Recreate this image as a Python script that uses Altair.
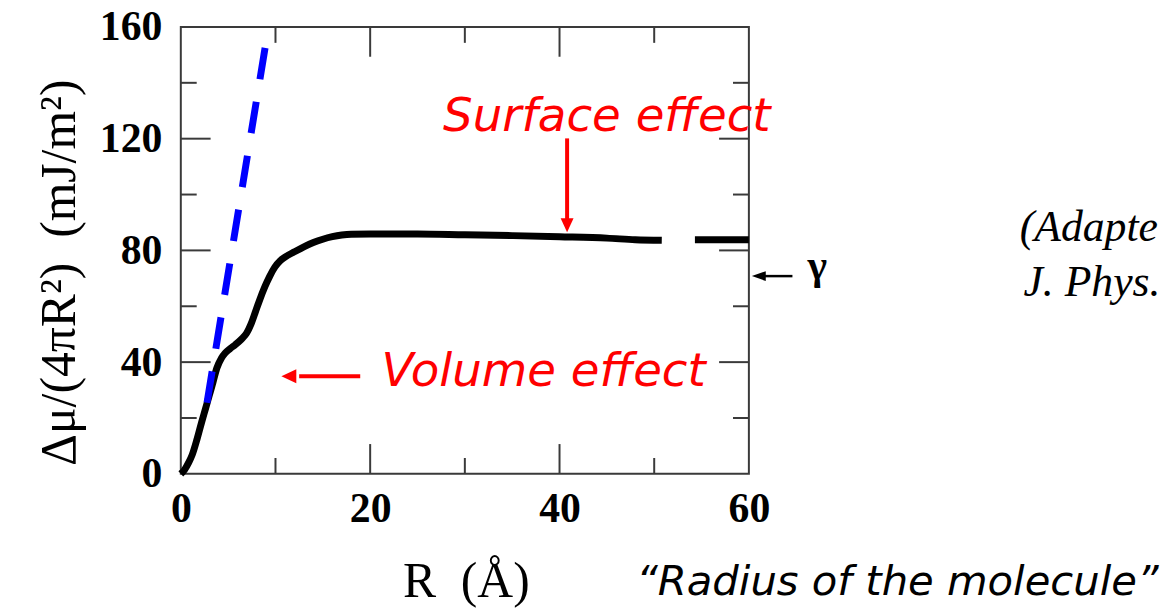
import altair as alt
import pandas as pd

# ---------------- data ----------------
# black curve  Δμ/(4πR²) vs R  (segment 1 before the gap, segment 2 after)
curve_R = [0.0, 0.4, 0.84, 1.2, 1.71, 2.2, 2.6, 3.0, 3.29, 3.81, 4.3, 4.69, 5.2,
           5.74, 6.4, 6.96, 7.4, 7.83, 8.3, 8.88, 9.4, 9.93, 10.5, 11.0, 12.0,
           13.0, 14.0, 15.0, 16.0, 17.0, 18.0, 20.0, 25.0, 30.0, 35.0, 40.0,
           45.0, 48.0, 50.8,
           54.3, 57.0, 60.0]
curve_v = [0.0, 1.5, 4.1, 6.8, 12.4, 18.5, 23.2, 28.0, 31.4, 37.9, 41.5, 43.3, 44.8,
           46.2, 48.2, 50.4, 53.5, 57.5, 62.0, 67.0, 70.8, 74.0, 76.3, 77.6, 79.5,
           81.3, 82.8, 84.0, 84.9, 85.5, 85.8, 85.9, 85.9, 85.6, 85.3, 84.9,
           84.4, 83.8, 83.6,
           83.8, 83.8, 83.8]
curve_seg = [1] * 39 + [2] * 3

# blue dashed (volume) line, listed from its top end
blue_R = [8.9, 2.6]
blue_v = [152.5, 22.0]
blue_ord = [0, 1]

# axis tick values
x_labels = [0, 20, 40, 60]
y_labels = [0, 40, 80, 120, 160]
x_major = [20, 40]
x_minor = [10, 30, 50]
y_major = [40, 80, 120]
y_minor = [20, 60, 100, 140]

# annotations
red_text = ["Surface effect", "Volume effect"]
red_text_R = [27.7, 21.2]
red_text_v = [122.9, 31.6]

ref_text = ["(Adapte", "J. Phys."]
ref_text_R = [88.6, 89.0]
ref_text_v = [83.5, 63.5]

gamma_text = ["γ"]
gamma_R = [66.2]
gamma_v = [74.3]

radius_text = ["\u201cRadius of the molecule\u201d"]
radius_R = [48.1]
radius_v = [-43.2]

# arrows: shafts and heads
surf_arrow_R = [40.8, 40.8]
surf_arrow_v = [120.1, 90.5]
surf_head_R = [40.8]
surf_head_v = [89.0]

vol_arrow_R = [18.95, 12.5]
vol_arrow_v = [34.95, 34.95]
vol_head_R = [11.41]
vol_head_v = [34.95]

gam_arrow_R = [64.6, 61.5]
gam_arrow_v = [70.8, 70.8]
gam_head_R = [61.05]
gam_head_v = [70.8]

# ---------------- chart ----------------
W, H = 572, 450
XS = alt.Scale(domain=[0, 60], nice=False, zero=False)
YS = alt.Scale(domain=[0, 160], nice=False, zero=False)
FRAME = "#3a3a3a"

X_AXIS = alt.Axis(values=x_labels, domain=False, ticks=False, tickSize=0, grid=False,
                  labelFont="Liberation Serif", labelFontWeight="bold", labelFontSize=42,
                  labelColor="black", labelPadding=15, labelFlush=False,
                  labelOverlap=False,
                  title="R\u00a0\u00a0(Å)", titleFont="Liberation Serif", titleFontSize=50,
                  titleFontWeight="normal", titleColor="black",
                  titleAlign="center", titleBaseline="alphabetic",
                  titleX=287, titleY=123)
Y_AXIS = alt.Axis(values=y_labels, domain=False, ticks=False, tickSize=0, grid=False,
                  labelFont="Liberation Serif", labelFontWeight="bold", labelFontSize=42,
                  labelColor="black", labelPadding=19, labelFlush=False,
                  labelOverlap=False,
                  title="Δμ/(4πR²)\u00a0\u00a0(mJ/m²)", titleFont="Liberation Serif",
                  titleFontSize=50, titleFontWeight="normal", titleColor="black",
                  titleAngle=270, titleAlign="center", titleBaseline="alphabetic",
                  titleX=-107, titleY=247)

curve_df = pd.DataFrame({"R": curve_R, "v": curve_v, "seg": curve_seg})
blue_df = pd.DataFrame({"R": blue_R, "v": blue_v, "ord": blue_ord})


def xq():
    return alt.X("R:Q", scale=XS, axis=X_AXIS)


def yq():
    return alt.Y("v:Q", scale=YS, axis=Y_AXIS)


blue = alt.Chart(blue_df).mark_line(
    color="#0000ff", strokeWidth=7, strokeDash=[32, 23], strokeCap="butt"
).encode(x=xq(), y=yq(), order=alt.Order("ord:Q"))

curve = alt.Chart(curve_df).mark_line(
    color="black", strokeWidth=7, interpolate="monotone", strokeCap="butt"
).encode(x=xq(), y=yq(), detail="seg:N")


def ticks_x(vals, at, length):
    df = pd.DataFrame({"R": vals})
    return alt.Chart(df).mark_rule(color=FRAME, strokeWidth=2, y2Offset=length).encode(
        x=xq(), y=alt.datum(at, scale=YS, axis=Y_AXIS), y2=alt.datum(at))


def ticks_y(vals, at, length):
    df = pd.DataFrame({"v": vals})
    return alt.Chart(df).mark_rule(color=FRAME, strokeWidth=2, x2Offset=length).encode(
        y=yq(), x=alt.datum(at, scale=XS, axis=X_AXIS), x2=alt.datum(at))


tick_layers = [
    ticks_x(x_major, 0, -30), ticks_x(x_minor, 0, -16),
    ticks_x(x_major, 160, 30), ticks_x(x_minor, 160, 16),
    ticks_y(y_major, 0, 30), ticks_y(y_minor, 0, 16),
    ticks_y(y_major, 60, -30), ticks_y(y_minor, 60, -16),
]


def text_layer(texts, Rs, vs, **kw):
    df = pd.DataFrame({"t": texts, "R": Rs, "v": vs})
    return alt.Chart(df).mark_text(**kw).encode(x=xq(), y=yq(), text="t:N")


red_texts = text_layer(red_text, red_text_R, red_text_v, font="DejaVu Sans",
                       fontStyle="italic", fontSize=47, color="#ff0000",
                       align="left", baseline="alphabetic")
ref_texts = text_layer(ref_text, ref_text_R, ref_text_v, font="Liberation Serif",
                       fontStyle="italic", fontSize=44, color="black",
                       align="left", baseline="alphabetic")
gamma = text_layer(gamma_text, gamma_R, gamma_v, font="Liberation Serif",
                   fontWeight="bold", fontSize=42, color="black",
                   align="left", baseline="middle")
radius = text_layer(radius_text, radius_R, radius_v, font="DejaVu Sans",
                    fontStyle="italic", fontSize=42, color="black",
                    align="left", baseline="alphabetic")


def shaft(Rs, vs, color, width):
    df = pd.DataFrame({"R": Rs, "v": vs})
    return alt.Chart(df).mark_line(color=color, strokeWidth=width, strokeCap="butt").encode(
        x=xq(), y=yq())


def head(Rs, vs, color, shape, size):
    df = pd.DataFrame({"R": Rs, "v": vs})
    return alt.Chart(df).mark_point(shape=shape, size=size, filled=True, color=color,
                                    opacity=1, strokeWidth=0).encode(x=xq(), y=yq())


arrows = [
    shaft(surf_arrow_R, surf_arrow_v, "#ff0000", 4),
    head(surf_head_R, surf_head_v, "#ff0000", "M-0.93,-1L0.93,-1L0,1Z", 196),
    shaft(vol_arrow_R, vol_arrow_v, "#ff0000", 4),
    head(vol_head_R, vol_head_v, "#ff0000", "M1,-0.93L1,0.93L-1,0Z", 225),
    shaft(gam_arrow_R, gam_arrow_v, "black", 2.5),
    head(gam_head_R, gam_head_v, "black", "M1,-0.7L1,0.7L-1,0Z", 196),
]

chart = alt.layer(
    curve, blue, *tick_layers, *arrows, red_texts, ref_texts, gamma, radius
).properties(
    width=W, height=H,
    autosize=alt.AutoSizeParams(type="none"),
    padding={"left": 174, "top": 17, "right": 420, "bottom": 135},
    background="white",
).configure_view(
    stroke=FRAME, strokeWidth=2
)

chart.save("out.html", embed_options={"renderer": "svg", "actions": False})
